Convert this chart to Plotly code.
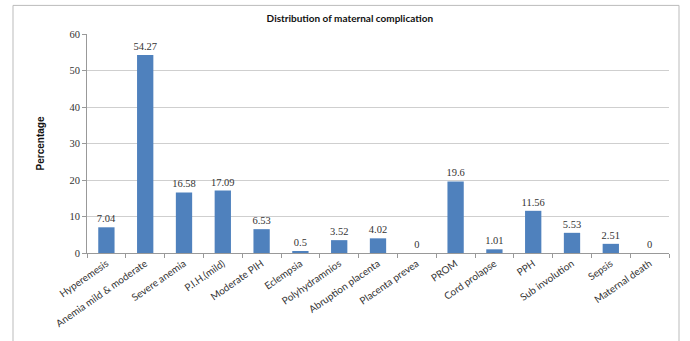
import plotly.graph_objects as go

categories = ["Hyperemesis", "Anemia mild & moderate", "Severe anemia", "P.I.H.(mild)",
              "Moderate PIH", "Eclempsia", "Polyhydramnios", "Abruption placenta",
              "Placenta prevea", "PROM", "Cord prolapse", "PPH", "Sub involution",
              "Sepsis", "Maternal death"]
values = [7.04, 54.27, 16.58, 17.09, 6.53, 0.5, 3.52, 4.02, 0, 19.6, 1.01, 11.56, 5.53, 2.51, 0]
labels = ["7.04", "54.27", "16.58", "17.09", "6.53", "0.5", "3.52", "4.02", "0",
          "19.6", "1.01", "11.56", "5.53", "2.51", "0"]
y_ticks = [0, 10, 20, 30, 40, 50, 60]

fig = go.Figure(go.Bar(
    x=categories, y=values, text=labels, textposition="outside",
    cliponaxis=False, constraintext="none",
    textfont=dict(family="Liberation Serif, serif", size=10.5, color="#333333"),
    marker=dict(color="#4F81BD", line=dict(width=0)),
))

fig.update_layout(
    width=690, height=341,
    margin=dict(l=87, r=21, t=34, b=85),
    paper_bgcolor="white", plot_bgcolor="white",
    bargap=0.58,
    showlegend=False,
    title=dict(text="<b>Distribution of maternal complication</b>", x=0.507, xanchor="center",
               y=0.947, yanchor="middle",
               font=dict(family="Lato, sans-serif", size=10, color="#111111")),
    xaxis=dict(
        tickangle=-35, tickfont=dict(family="Lato, sans-serif", size=10, color="#333333"),
        showline=True, linecolor="#999999", linewidth=1,
        ticks="outside", tickson="boundaries", ticklen=4, tickcolor="#999999",
        showgrid=False, fixedrange=True,
    ),
    yaxis=dict(
        range=[0, 60], tickvals=y_ticks,
        tickfont=dict(family="Liberation Serif, serif", size=10.5, color="#333333"),
        showline=True, linecolor="#999999", linewidth=1,
        ticks="outside", ticklen=4, tickcolor="#999999",
        showgrid=True, gridcolor="#CFCFCF", gridwidth=1, zeroline=False,
        title=dict(text="<b>Percentage</b>", standoff=22,
                   font=dict(family="Liberation Sans Narrow, Arial Narrow, sans-serif", size=10, color="#111111")),
    ),
    shapes=[dict(type="rect", xref="paper", yref="paper",
                 x0=(13 - 87) / 582, x1=(679 - 87) / 582,
                 y0=-0.6, y1=1 + 29 / 222,
                 line=dict(color="#BBBBBB", width=1), fillcolor="rgba(0,0,0,0)", layer="below")],
)

fig.write_html("out.html")
